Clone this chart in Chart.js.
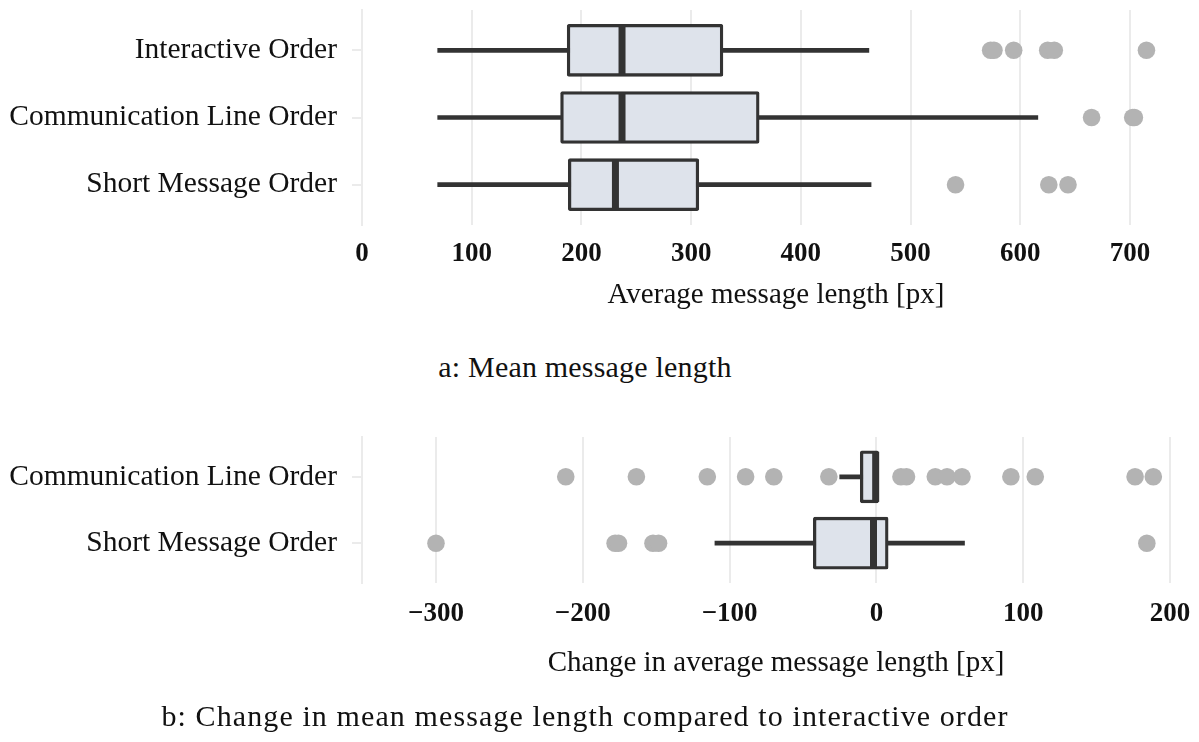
<!DOCTYPE html>
<html>
<head>
<meta charset="utf-8">
<script src="https://cdn.jsdelivr.net/npm/chart.js@4.4.0/dist/chart.umd.min.js"></script>
<style>
  html, body { margin: 0; padding: 0; background: #fff; }
  body { width: 1199px; height: 742px; position: relative; overflow: hidden; }
  canvas { position: absolute; left: 0; }
  #c1 { top: 0; }
  #c2 { top: 420px; }
  .cap { position: absolute; left: 0; width: 1170px; text-align: center;
         font-family: "Liberation Serif", serif; font-size: 30px; color: #111; line-height: 1; }
  #capA { top: 352px; letter-spacing: 0.2px; }
  #capB { top: 701px; letter-spacing: 1.1px; }
</style>
</head>
<body>
<canvas id="c1" width="1199" height="330"></canvas>
<canvas id="c2" width="1199" height="280"></canvas>
<div class="cap" id="capA">a: Mean message length</div>
<div class="cap" id="capB">b: Change in mean message length compared to interactive order</div>
<script>
// ---------- Panel a data ----------
const categoriesA = ['Interactive Order', 'Communication Line Order', 'Short Message Order'];
const whiskerLowA = [69, 69, 69];
const q1A = [187, 181, 188];
const medianA = [237, 237, 231];
const q3A = [329, 362, 307];
const whiskerHighA = [462, 616, 464];
const outliersA = [
  [573, 576, 594, 625, 631, 715],
  [665, 702.5, 704],
  [541, 626, 643.5]
];
const ticksA = [0, 100, 200, 300, 400, 500, 600, 700];

// ---------- Panel b data ----------
const categoriesB = ['Communication Line Order', 'Short Message Order'];
const whiskerLowB = [-25, -110];
const q1B = [-11, -43];
const medianB = [-0.5, -2];
const q3B = [1.5, 8];
const whiskerHighB = [1.5, 60];
const outliersB = [
  [-211.6, -163.5, -115.2, -89.1, -69.9, -32.4, 16.7, 20.5, 40.1, 48.1, 58.3, 91.6, 108.2, 176.2, 188.6],
  [-300, -178, -175.7, -152.2, -148.4, 184.2]
];
const ticksB = [-300, -200, -100, 0, 100, 200];

const DARK = '#333333';
const BOXFILL = '#dee3eb';
const OUTL = '#b3b3b3';
const GRID = '#ebebeb';
const LABEL_FONT = { family: 'Liberation Serif', size: 29.5 };
const TICK_FONT = { family: 'Liberation Serif', size: 27, weight: 'bold' };
const TITLE_FONT = { family: 'Liberation Serif', size: 29 };

function buildChart(canvasId, cats, lo, q1, med, q3, hi, outl, ticks, xmin, xmax, cfg) {
  const idx = cats.map((_, i) => i);
  const whiskerData = idx.map(i => ({ y: i, x: [lo[i], hi[i]] }));
  const boxData = idx.map(i => ({ y: i, x: [q1[i], q3[i]] }));
  const medData = idx.map(i => ({ y: i, x: med[i] }));
  const outData = [];
  outl.forEach((arr, i) => arr.forEach(v => outData.push({ y: i, x: v })));

  return new Chart(document.getElementById(canvasId), {
    type: 'bar',
    data: {
      datasets: [
        { type: 'bar', data: whiskerData, backgroundColor: DARK, borderWidth: 0,
          barThickness: 4, grouped: false, order: 4 },
        { type: 'bar', data: boxData, backgroundColor: BOXFILL, borderColor: DARK,
          borderWidth: 3.3, borderSkipped: false, borderRadius: 2,
          barThickness: 52, grouped: false, order: 3 },
        { type: 'scatter', data: medData, pointStyle: 'line', rotation: 90,
          radius: 25, borderColor: DARK, borderWidth: 7, order: 2, clip: false },
        { type: 'scatter', data: outData, pointStyle: 'circle', radius: 8.8,
          backgroundColor: OUTL, borderWidth: 0, order: 1, clip: false }
      ]
    },
    options: {
      indexAxis: 'y',
      responsive: false,
      animation: false,
      devicePixelRatio: 1,
      layout: { autoPadding: false, padding: { top: cfg.padTop, right: 9, left: 0, bottom: 0 } },
      plugins: { legend: { display: false }, tooltip: { enabled: false } },
      scales: {
        x: {
          type: 'linear', position: 'bottom', min: xmin, max: xmax, offset: false,
          afterFit: s => { s.height = cfg.xHeight; s.paddingLeft = 0; s.paddingRight = 0; },
          afterBuildTicks: s => { s.ticks = ticks.map(v => ({ value: v })); },
          grid: { color: GRID, lineWidth: 2, drawTicks: false, offset: false },
          border: { display: false },
          ticks: {
            font: TICK_FONT, color: '#111', padding: cfg.tickPad, maxRotation: 0,
            callback: v => (v < 0 ? '\u2212' + Math.abs(v) : String(v))
          },
          title: { display: true, text: cfg.title, font: TITLE_FONT, color: '#111',
                   padding: { top: 0, bottom: cfg.titlePad } }
        },
        y: {
          type: 'linear', reverse: true, min: -0.6, max: cats.length - 0.4, offset: false,
          afterFit: s => { s.width = 362; s.paddingTop = 0; s.paddingBottom = 0; },
          afterBuildTicks: s => { s.ticks = idx.map(v => ({ value: v })); },
          grid: { drawOnChartArea: false, drawTicks: true, tickLength: 10, color: GRID,
                  lineWidth: 2, offset: false },
          border: { display: true, color: GRID, width: 2 },
          ticks: { font: LABEL_FONT, color: '#111', padding: 15,
                   callback: v => cats[v] }
        }
      }
    }
  });
}

buildChart('c1', categoriesA, whiskerLowA, q1A, medianA, q3A, whiskerHighA, outliersA, ticksA,
  0, 754.7, { padTop: 10, xHeight: 105, tickPad: 13, titlePad: 17, title: 'Average message length [px]' });
buildChart('c2', categoriesB, whiskerLowB, q1B, medianB, q3B, whiskerHighB, outliersB, ticksB,
  -350.4, 213.6, { padTop: 17, xHeight: 117, tickPad: 15, titlePad: 19, title: 'Change in average message length [px]' });
</script>
</body>
</html>
